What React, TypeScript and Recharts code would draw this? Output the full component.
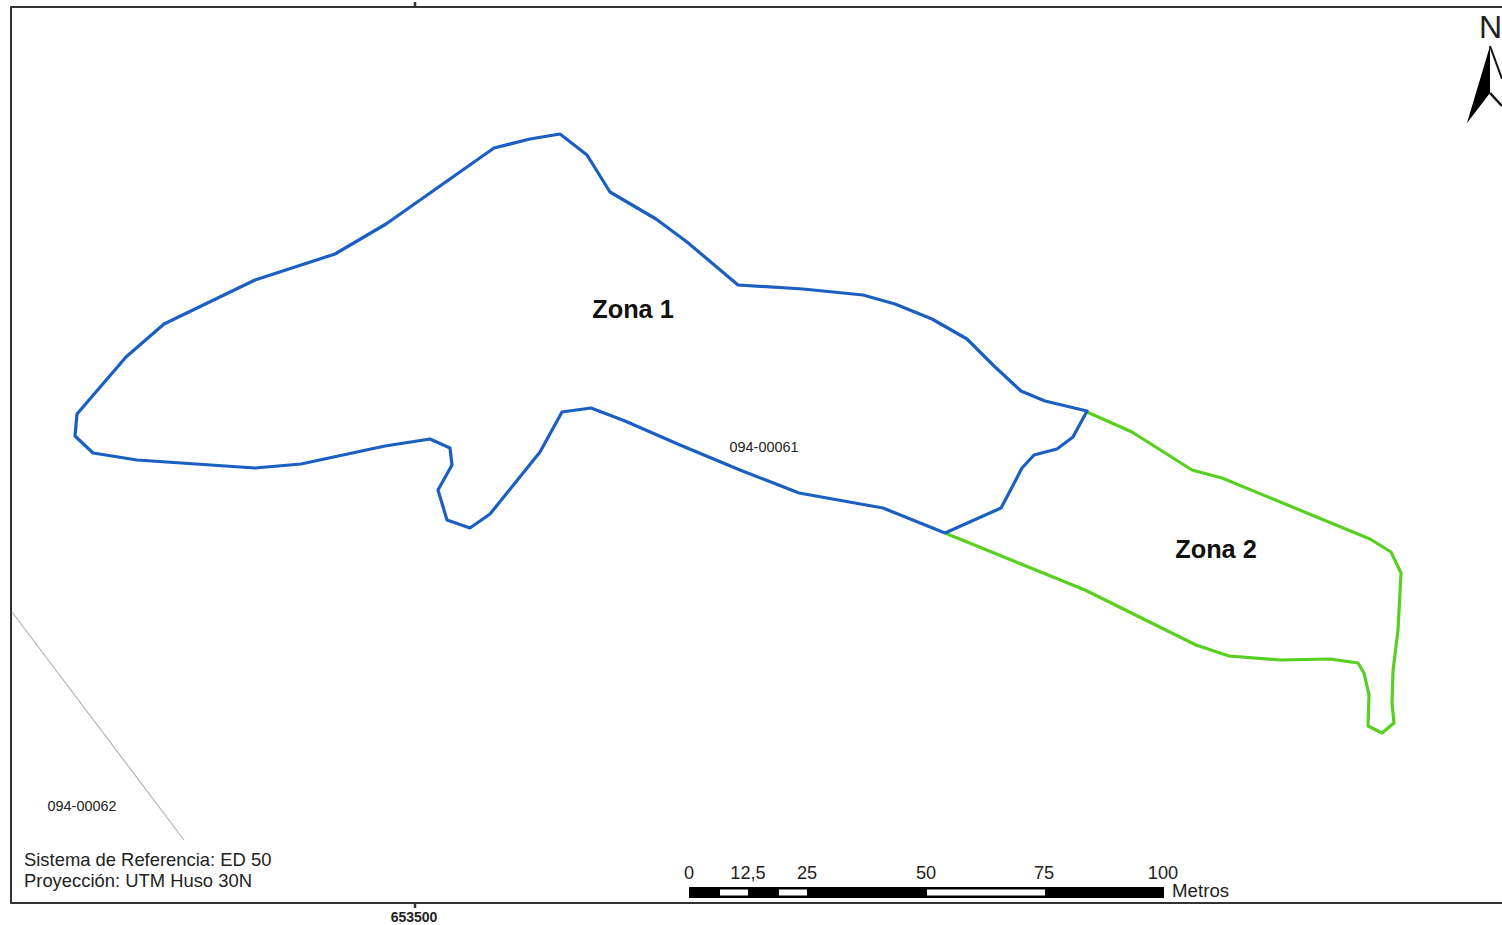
import React from 'react';
import { ComposedChart, Line, Area, XAxis, YAxis, ReferenceArea, ReferenceDot } from 'recharts';

// map readings, in the picture's own x / y units
const zona1 = [
  [945, 533], [1001, 508], [1009, 493], [1022, 468], [1034, 455], [1057, 449], [1073, 437], [1087, 411],
  [1045, 401], [1021, 391], [993, 365], [967, 339], [932, 319], [895, 304], [863, 295], [803, 289], [738, 285],
  [687, 242], [656, 219], [610, 192], [587, 155], [560, 134], [530, 139], [494, 148], [386, 224], [335, 254],
  [255, 280], [164, 324], [126, 357], [77, 414], [75, 436], [93, 453], [137, 460], [255, 468], [301, 464],
  [385, 446], [430, 439], [450, 448], [452, 465], [438, 490], [447, 520], [470, 528], [490, 514], [540, 452],
  [562, 412], [591, 408], [625, 421], [680, 445], [740, 470], [799, 493], [883, 508], [945, 533],
];
const zona2 = [
  [1087, 412], [1132, 432], [1192, 470], [1222, 478], [1370, 539], [1391, 552], [1401, 573], [1398, 630],
  [1393, 671], [1392, 703], [1394, 723], [1382, 733], [1368, 726], [1369, 695], [1364, 673], [1358, 663],
  [1330, 659], [1280, 660], [1229, 656], [1196, 645], [1085, 590], [945, 533],
];
const parcelBoundary = [[12, 612], [184, 840]];
const frame = [[1502, 7], [11, 7], [11, 903], [1502, 903]];
const topTick = [[415, 2], [415, 7]];
const bottomTick = [[415, 903], [415, 908]];
const arrowRight = [[1490, 46], [1502, 79]];
const arrowNotch = [[1490, 93], [1502, 106]];
const arrowLeft = [
  { x: 1467, range: [123, 123] },
  { x: 1490, range: [46, 93] },
];

const scaleLabels = ['0', '12,5', '25', '50', '75', '100'];
const scaleLabelX = [689, 748, 807, 926, 1044, 1163];
const scaleWhite = [[720, 748], [779, 807], [927, 1045]];

const toPoints = (pts: number[][]) => pts.map(([x, y]) => ({ x, y }));

const mapText = (
  text: string,
  x: number,
  y: number,
  size: number,
  opts: { weight?: string; anchor?: string; fill?: string } = {},
) => (
  <ReferenceDot
    key={text}
    x={x}
    y={y}
    r={0}
    ifOverflow="visible"
    shape={(p: any) => (
      <text
        x={p.cx}
        y={p.cy}
        fontFamily="'Liberation Sans', Arial, sans-serif"
        fontSize={size}
        fontWeight={opts.weight || 'normal'}
        textAnchor={opts.anchor || 'start'}
        fill={opts.fill || '#222'}
      >
        {text}
      </text>
    )}
  />
);

const path = (pts: number[][], color: string, width: number, name: string) => (
  <Line
    key={name}
    data={toPoints(pts)}
    dataKey="y"
    name={name}
    type="linear"
    stroke={color}
    strokeWidth={width}
    strokeLinejoin="round"
    dot={false}
    activeDot={false}
    legendType="none"
    isAnimationActive={false}
  />
);

export default function App() {
  return (
    <div style={{ position: 'absolute', left: 0, top: 0, width: 1502, height: 925, background: '#fff', overflow: 'hidden' }}>
      <ComposedChart width={1502} height={925} margin={{ top: 0, right: 0, bottom: 0, left: 0 }}>
        <XAxis dataKey="x" type="number" domain={[0, 1502]} hide allowDuplicatedCategory={false} />
        <YAxis type="number" domain={[0, 925]} reversed hide />

        {path(frame, '#333', 2, 'frame')}
        {path(topTick, '#333', 2.5, 'topTick')}
        {path(bottomTick, '#333', 2.5, 'bottomTick')}
        {path(parcelBoundary, '#b4b4b4', 1.2, 'parcel')}
        {path(zona2, '#58d022', 3.2, 'Zona 2')}
        {path(zona1, '#1b5fc1', 3.2, 'Zona 1')}

        <Area data={arrowLeft} dataKey="range" type="linear" fill="#000" fillOpacity={1} stroke="none" dot={false} activeDot={false} isAnimationActive={false} />
        {path(arrowRight, '#111', 2, 'arrowRight')}
        {path(arrowNotch, '#111', 2.5, 'arrowNotch')}

        <ReferenceArea x1={689} x2={1164} y1={887} y2={898} fill="#000" fillOpacity={1} stroke="none" ifOverflow="visible" />
        {scaleWhite.map(([a, b]) => (
          <ReferenceArea key={a} x1={a} x2={b} y1={889.5} y2={895.5} fill="#fff" fillOpacity={1} stroke="none" ifOverflow="visible" />
        ))}
        {scaleLabels.map((t, i) => mapText(t, scaleLabelX[i], 879, 18.2, { anchor: 'middle' }))}
        {mapText('Metros', 1172, 897, 18.7)}

        {mapText('Zona 1', 633, 318, 25.3, { weight: 'bold', anchor: 'middle', fill: '#111' })}
        {mapText('Zona 2', 1216, 558, 25.3, { weight: 'bold', anchor: 'middle', fill: '#111' })}
        {mapText('094-00061', 764, 452, 14.4, { anchor: 'middle' })}
        {mapText('094-00062', 82, 811, 14.4, { anchor: 'middle' })}
        {mapText('Sistema de Referencia: ED 50', 24, 866, 18.4)}
        {mapText('Proyección: UTM Huso 30N', 24, 887, 18.4)}
        {mapText('653500', 414, 922, 14, { weight: 'bold', anchor: 'middle' })}
        {mapText('N', 1479, 38, 32)}
      </ComposedChart>
    </div>
  );
}
